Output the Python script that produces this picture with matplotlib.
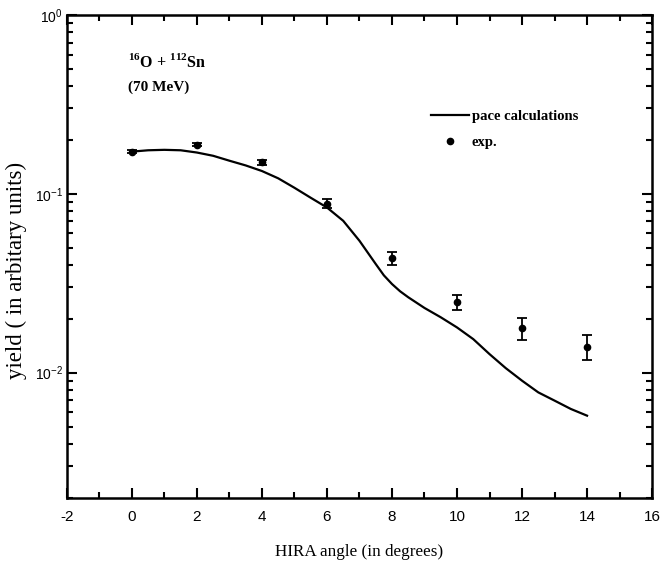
import matplotlib
matplotlib.use('Agg')
import matplotlib.pyplot as plt
import numpy as np
from matplotlib.lines import Line2D
from matplotlib.ticker import LogLocator, MultipleLocator, NullFormatter

# pace calculation
pace_angle = [0, 0.5, 1, 1.5, 2, 2.5, 3, 3.5, 4, 4.5, 5, 5.5, 6, 6.5, 7, 7.5,
              7.75, 8, 8.25, 8.5, 9, 9.5, 10, 10.5, 11, 11.5, 12, 12.5, 13,
              13.5, 14]
pace_yield = [0.172, 0.175, 0.176, 0.175, 0.170, 0.163, 0.153, 0.144, 0.134,
              0.122, 0.108, 0.095, 0.0838, 0.0706, 0.0546, 0.0405, 0.0350,
              0.0313, 0.0285, 0.0264, 0.0230, 0.0204, 0.0179, 0.0154, 0.0127,
              0.0106, 0.00902, 0.00776, 0.00698, 0.00627, 0.00575]

# experiment
exp_angle = [0, 2, 4, 6, 8, 10, 12, 14]
exp_yield = [0.172, 0.188, 0.150, 0.088, 0.0435, 0.0247, 0.0178, 0.0140]
exp_err = [0.003, 0.003, 0.005, 0.005, 0.0035, 0.0023, 0.0025, 0.0022]

serif = ['Liberation Serif', 'DejaVu Serif']
sans = ['Liberation Sans', 'DejaVu Sans']

plt.rcParams['axes.unicode_minus'] = False
plt.rcParams['mathtext.fontset'] = 'custom'
plt.rcParams['mathtext.rm'] = 'Liberation Sans'
plt.rcParams['mathtext.bf'] = 'Liberation Serif:bold'

fig = plt.figure(figsize=(6.62, 5.71), dpi=100)
ax = fig.add_axes([0.101, 0.128, 0.884, 0.846])

line, = ax.plot(pace_angle, pace_yield, color='black', lw=1.6)
ax.errorbar(exp_angle, exp_yield, yerr=exp_err, fmt='o', color='black',
            ms=4.5, capsize=3.5, elinewidth=1.3, capthick=1.3)

ax.set_yscale('log')
ax.set_xlim(-2, 16)
ax.set_ylim(10 ** -2.7, 1)

ax.xaxis.set_major_locator(MultipleLocator(2))
ax.xaxis.set_minor_locator(MultipleLocator(1))
ax.yaxis.set_major_locator(LogLocator(base=10, numticks=10))
ax.yaxis.set_minor_locator(LogLocator(base=10, subs=np.arange(2, 10), numticks=10))
ax.yaxis.set_minor_formatter(NullFormatter())

ax.tick_params(which='both', direction='in', top=True, right=True, width=1.5)
ax.tick_params(which='major', length=7)
ax.tick_params(which='minor', length=4)
ax.tick_params(axis='x', which='major', labelsize=11, pad=9)
ax.tick_params(axis='y', which='major', labelsize=10, pad=3)
for lab in ax.get_xticklabels() + ax.get_yticklabels():
    lab.set_family(sans)

for sp in ax.spines.values():
    sp.set_linewidth(1.8)

ax.set_xlabel('HIRA angle (in degrees)', family=serif, fontsize=12.3, labelpad=14)
ax.set_ylabel('yield ( in arbitary units)', family=serif, fontsize=16.5)
ax.yaxis.set_label_coords(-0.068, 0.470)

ax.text(0.105, 0.893, r'$^{\mathbf{16}}$O + $^{\mathbf{112}}$Sn', transform=ax.transAxes,
        family=serif, fontsize=11.5, fontweight='bold')
ax.text(0.105, 0.843, '(70 MeV)', transform=ax.transAxes,
        family=serif, fontsize=11, fontweight='bold')

exp_handle = Line2D([], [], ls='none', marker='o', ms=4.5, color='black')
ax.legend([line, exp_handle], ['pace calculations', 'exp.'], loc='upper left',
          bbox_to_anchor=(0.6, 0.83), frameon=False,
          prop={'family': serif, 'size': 10.5, 'weight': 'bold'},
          handlelength=2.6, handletextpad=0.2, labelspacing=0.85)

fig.savefig('out.png', dpi=100)
